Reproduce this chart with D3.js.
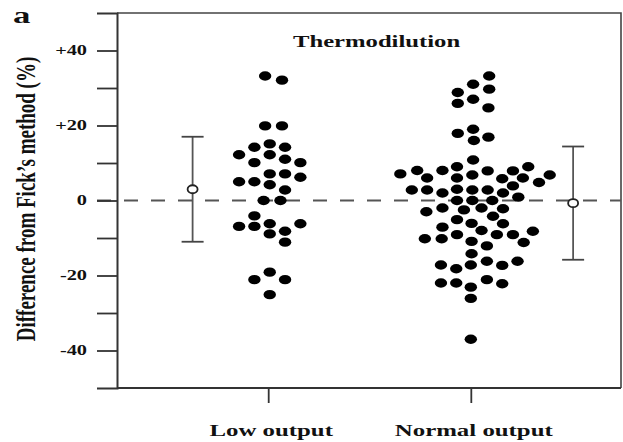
<!DOCTYPE html>
<html>
<head>
<meta charset="utf-8">
<script src="https://cdn.jsdelivr.net/npm/d3@7"></script>
<style>
  body { margin: 0; background: #fff; }
  svg { display: block; }
  text { font-family: "Liberation Serif", "DejaVu Serif", serif; font-weight: bold; fill: #111; }
</style>
</head>
<body>
<svg id="chart" width="623" height="442"></svg>
<script>
// groups and their positions on the x domain
const categories = ["Low output", "Normal output"];
const categoryPos = [3.0, 7.02];

// individual differences (%) and their horizontal slot in the dot column
const lowValues = [33.2, 32.1, 19.9, 19.9, 14.2, 15.1, 14.2, 12.2, 12.2, 11.0, 10.1, 10.1,
  7.1, 7.1, 6.2, 5.0, 5.0, 4.2, 2.8, 0, 0, -4.1, -6.9, -6.9, -6.2, -6.2, -8.9, -8.2,
  -11.1, -19.1, -21.1, -21.1, -25.1];
const lowSlots = [-0.2, 0.9, -0.2, 0.9, -0.9, 0.1, 1.1, -1.9, 0.1, 1.1, -0.9, 2.1,
  0.1, 1.1, 2.1, -1.9, -0.9, 0.1, 1.1, -0.3, 0.8, -0.9, -1.9, -0.9, 0.1, 2.1, 0.1, 1.1,
  1.1, 0.1, -0.9, 1.1, 0.1];

const normalValues = [33.2, 31.0, 29.7, 28.8, 25.9, 27.0, 24.7, 19.0, 17.9, 16.0, 16.9, 10.8,
  7.1, 8.0, 6.0, 8.0, 9.0, 6.0, 6.8, 7.9, 5.8, 7.9, 9.0, 6.0, 4.8, 6.8, 3.9,
  2.8, 2.8, 2.0, 3.0, 2.8, 2.8, 2.0, 0.9, 0, 0, 0,
  -2.0, -3.0, -2.5, -2.0, -2.2, -4.2, -5.1, -6.1, -6.2, -7.1, -8.0,
  -10.2, -10.2, -9.1, -9.1, -9.1, -8.2, -11.2, -10.9, -12.1, -14.2,
  -17.2, -18.2, -17.2, -16.2, -17.3, -16.2, -22.0, -22.0, -23.1, -21.1, -22.2, -26.1, -37.0];
const normalSlots = [1.2, 0.15, 1.2, -0.85, -0.85, 0.15, 1.15, 0.15, -0.85, 0.2, 1.15, 0.15,
  -4.6, -3.5, -2.85, -1.85, -0.9, -0.9, 0.1, 1.1, 2.05, 2.75, 3.75, 3.4, 4.45, 5.15, 2.75,
  -3.85, -2.85, -1.85, -0.9, 0.1, 1.1, 2.1, 3.1, -0.9, 0.1, 1.4,
  -1.85, -2.9, -0.45, 0.7, 2.1, 1.45, -0.9, 0.05, 2.1, -1.85, 0.7,
  -3.0, -1.9, -0.9, 1.7, 2.75, 4.05, 3.45, 0.05, 1.05, 0.05,
  -1.95, -0.95, 0, 1.05, 2.05, 3.05, -1.95, -0.95, 0, 1.05, 2.05, 0, 0];

// mean ± SD summary bars, drawn beside each group
const sdPos = [1.5, 9.05];
const sdMean = [3.0, -0.7];
const sdSD = [14.0, 15.1];

const yTicks = [-40, -30, -20, -10, 0, 10, 20, 30, 40];
const yLabelled = [-40, -20, 0, 20, 40];

const svg = d3.select("#chart");
const plotLeft = 117, plotRight = 621, plotTop = 13, plotBottom = 388;
const slotWidth = 0.304;   // width of one dot column, in x units

const x = d3.scaleLinear().domain([0, 10]).range([plotLeft, plotRight]);
const y = d3.scaleLinear().domain([-50, 50]).range([plotBottom, plotTop]);

// stretch text horizontally like the scanned figure
function stretch(sel, k) {
  sel.each(function () {
    const w = this.getComputedTextLength();
    d3.select(this).attr("textLength", w * k).attr("lengthAdjust", "spacingAndGlyphs");
  });
}

// frame: top and right border
svg.append("path")
  .attr("d", `M${plotLeft},${plotTop}H${plotRight}V${plotBottom}`)
  .attr("fill", "none").attr("stroke", "#444").attr("stroke-width", 1.6);

// zero reference line
svg.append("line")
  .attr("x1", plotLeft - 20).attr("x2", plotRight)
  .attr("y1", y(0)).attr("y2", y(0))
  .attr("stroke", "#555").attr("stroke-width", 1.8)
  .attr("stroke-dasharray", "14,13");

// y axis
const yAxis = svg.append("g")
  .attr("transform", `translate(${plotLeft},0)`)
  .call(d3.axisLeft(y).tickValues(yTicks).tickSize(20).tickPadding(10)
    .tickFormat(d => yLabelled.includes(d) ? (d > 0 ? "+" + d : d === 0 ? "0" : "-" + Math.abs(d)) : ""));
yAxis.select(".domain").attr("stroke", "#333").attr("stroke-width", 2);
yAxis.selectAll(".tick line").attr("stroke", "#333").attr("stroke-width", 1.8);
yAxis.selectAll(".tick text")
  .attr("font-size", 14).attr("fill", "#111")
  .attr("font-family", "Liberation Serif, serif").attr("font-weight", "bold")
  .call(stretch, 1.45);

// x axis
const xAxis = svg.append("g")
  .attr("transform", `translate(0,${plotBottom})`)
  .call(d3.axisBottom(x).tickValues(categoryPos).tickSize(15).tickFormat(""));
xAxis.select(".domain").attr("stroke", "#333").attr("stroke-width", 2).attr("d", `M${plotLeft},0H${plotRight}`);
xAxis.selectAll(".tick line").attr("stroke", "#333").attr("stroke-width", 1.8);

svg.append("g").selectAll("text")
  .data(categories)
  .join("text")
  .attr("x", (d, i) => x(categoryPos[i]) + 3)
  .attr("y", 436)
  .attr("text-anchor", "middle")
  .attr("font-size", 17)
  .text(d => d)
  .call(stretch, 1.46);

// dots
const points = [
  ...lowValues.map((v, i) => ({ g: 0, v, s: lowSlots[i] })),
  ...normalValues.map((v, i) => ({ g: 1, v, s: normalSlots[i] }))
];
svg.append("g").selectAll("ellipse")
  .data(points)
  .join("ellipse")
  .attr("cx", d => x(categoryPos[d.g] + d.s * slotWidth))
  .attr("cy", d => y(d.v))
  .attr("rx", 6.2)
  .attr("ry", 4.7)
  .attr("fill", "#000");

// mean ± SD bars
const sd = svg.append("g").selectAll("g")
  .data(sdPos)
  .join("g");
sd.append("line")
  .attr("x1", d => x(d)).attr("x2", d => x(d))
  .attr("y1", (d, i) => y(sdMean[i] + sdSD[i]))
  .attr("y2", (d, i) => y(sdMean[i] - sdSD[i]))
  .attr("stroke", "#555").attr("stroke-width", 1.8);
sd.selectAll(".cap")
  .data((d, i) => [{ p: d, v: sdMean[i] + sdSD[i] }, { p: d, v: sdMean[i] - sdSD[i] }])
  .join("line")
  .attr("class", "cap")
  .attr("x1", d => x(d.p) - 11).attr("x2", d => x(d.p) + 11)
  .attr("y1", d => y(d.v)).attr("y2", d => y(d.v))
  .attr("stroke", "#444").attr("stroke-width", 1.8);
sd.append("ellipse")
  .attr("cx", d => x(d))
  .attr("cy", (d, i) => y(sdMean[i]))
  .attr("rx", 5).attr("ry", 4)
  .attr("fill", "#fff").attr("stroke", "#222").attr("stroke-width", 1.8);

// titles
svg.append("text")
  .attr("x", 13).attr("y", 23)
  .attr("font-size", 24)
  .text("a")
  .call(stretch, 1.45);

svg.append("text")
  .attr("x", 293).attr("y", 47)
  .attr("font-size", 17)
  .text("Thermodilution")
  .call(stretch, 1.45);

svg.append("text")
  .attr("transform", "translate(35,199) rotate(-90) scale(1,1.4)")
  .attr("text-anchor", "middle")
  .attr("font-size", 19)
  .text("Difference from Fick\u2019s method (%)");
</script>
</body>
</html>
